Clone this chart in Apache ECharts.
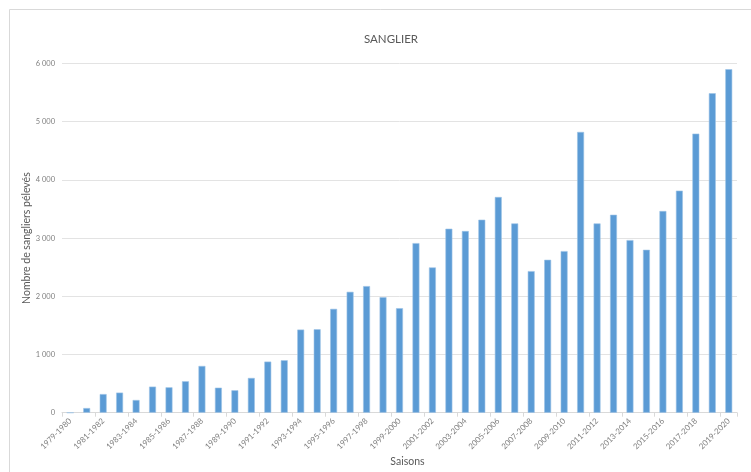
<!DOCTYPE html>
<html>
<head>
<meta charset="utf-8">
<script src="https://cdn.jsdelivr.net/npm/echarts@6/dist/echarts.min.js"></script>
<style>
html,body{margin:0;padding:0;background:#fff;}
#chart{width:751px;height:472px;}
</style>
</head>
<body>
<div id="chart"></div>
<script>
var seasons = ["1979-1980","1980-1981","1981-1982","1982-1983","1983-1984","1984-1985","1985-1986","1986-1987","1987-1988","1988-1989","1989-1990","1990-1991","1991-1992","1992-1993","1993-1994","1994-1995","1995-1996","1996-1997","1997-1998","1998-1999","1999-2000","2000-2001","2001-2002","2002-2003","2003-2004","2004-2005","2005-2006","2006-2007","2007-2008","2008-2009","2009-2010","2010-2011","2011-2012","2012-2013","2013-2014","2014-2015","2015-2016","2016-2017","2017-2018","2018-2019","2019-2020"];
var sangliers = [0,80,320,345,218,448,436,540,803,430,385,597,878,901,1428,1434,1784,2077,2175,1985,1796,2914,2496,3161,3121,3316,3706,3252,2433,2627,2777,4824,3252,3401,2966,2799,3465,3815,4795,5489,5902];
var yTicks = [0,1000,2000,3000,4000,5000,6000];
var chartTitle = "SANGLIER";
var xName = "Saisons";
var yName = "Nombre de sangliers pélevés";

var chart = echarts.init(document.getElementById('chart'), null, {renderer:'canvas'});
var font = 'Lato, "Open Sans", sans-serif';
chart.setOption({
  animation:false,
  backgroundColor:'#fff',
  graphic:[{type:'rect',shape:{x:9.5,y:9.5,width:800,height:500},style:{fill:'none',stroke:'#d9d9d9',lineWidth:1},silent:true}],
  title:{text:chartTitle,left:386,top:28,textAlign:'center',textStyle:{fontFamily:font,fontSize:11.5,fontWeight:'normal',color:'#595959'}},
  grid:{left:62,right:14,top:63.5,bottom:59.3,containLabel:false,outerBoundsMode:'none'},
  xAxis:{
    type:'category',data:seasons,
    name:xName,nameLocation:'middle',nameGap:43,nameMoveOverlap:false,
    nameTextStyle:{fontFamily:font,fontSize:10.5,color:'#595959',padding:[0,0,0,16]},
    axisLine:{lineStyle:{color:'#d9d9d9'}},
    axisTick:{show:true,length:4,lineStyle:{color:'#d9d9d9'}},
    axisLabel:{interval:1,rotate:45,margin:7,fontFamily:font,fontSize:8,color:'#7f7f7f'}
  },
  yAxis:{
    type:'value',min:0,max:6000,interval:1000,
    name:yName,nameLocation:'middle',nameGap:30,nameRotate:90,nameMoveOverlap:false,
    nameTextStyle:{fontFamily:font,fontSize:10.5,color:'#595959'},
    axisLine:{show:false},axisTick:{show:false},
    splitLine:{lineStyle:{color:'#e3e3e3'}},
    axisLabel:{margin:7,fontFamily:font,fontSize:7.5,color:'#7f7f7f',
      formatter:function(v){return String(v).replace(/\B(?=(\d{3})+(?!\d))/g,' ');}}
  },
  series:[{type:'bar',data:sangliers,barWidth:'42%',
    itemStyle:{color:'#5b9bd5',borderColor:'#9cc3e6',borderWidth:0.6}}]
});
</script>
</body>
</html>
